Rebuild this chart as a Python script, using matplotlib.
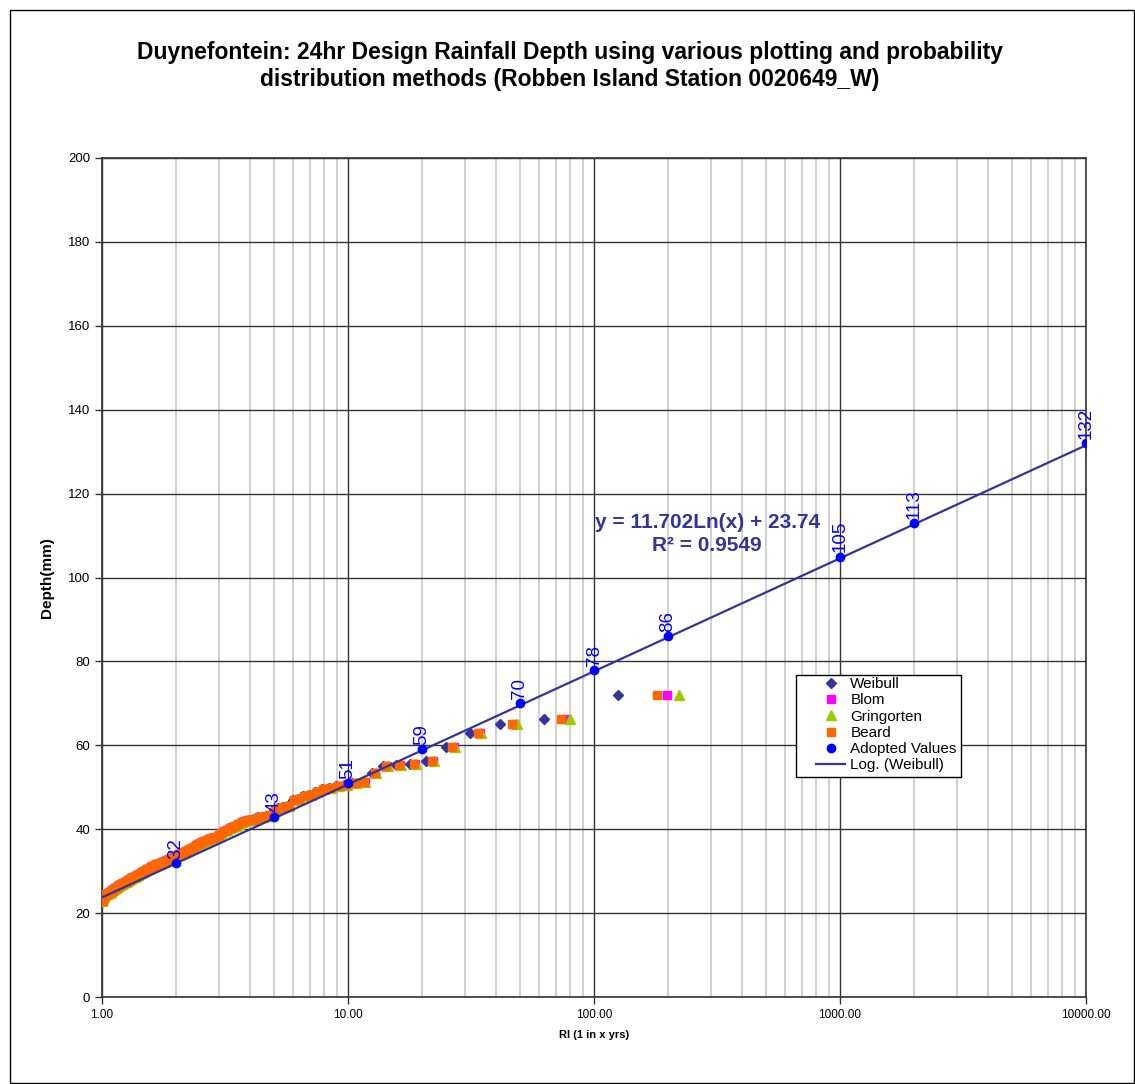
import matplotlib
matplotlib.use('Agg')
import matplotlib.pyplot as plt
import numpy as np
from matplotlib.ticker import LogLocator, FixedLocator, FuncFormatter, NullFormatter
from matplotlib.patches import Rectangle

plt.rcParams['font.family'] = ['Liberation Sans', 'DejaVu Sans']

# 24hr annual max depths (mm), ranked largest first
depth = [72.0, 66.3, 65.0, 63.0, 59.5, 56.2, 55.5, 55.2, 55.0, 53.5,
         51.2, 50.9, 50.5, 50.3, 49.8, 49.5, 48.8, 48.2, 47.8, 47.2,
         47.0, 45.6, 45.3, 45.0, 44.6, 43.5, 43.2, 43.0, 42.8, 42.5,
         42.3, 42.2, 42.0, 41.6, 41.2, 40.8, 40.6, 40.3, 39.8, 39.5,
         39.0, 38.6, 38.2, 38.0, 37.8, 37.6, 37.5, 37.3, 37.0, 36.7,
         36.4, 36.2, 35.8, 35.5, 35.3, 35.0, 34.8, 34.6, 34.4, 34.2,
         34.0, 33.8, 33.6, 33.4, 33.2, 33.0, 32.8, 32.7, 32.5, 32.3,
         32.1, 32.0, 31.8, 31.7, 31.6, 31.5, 31.3, 31.2, 31.0, 30.8,
         30.6, 30.4, 30.2, 30.0, 29.9, 29.7, 29.5, 29.4, 29.2, 29.0,
         28.9, 28.7, 28.6, 28.4, 28.3, 28.2, 28.0, 27.9, 27.7, 27.5,
         27.4, 27.2, 27.0, 26.9, 26.7, 26.6, 26.4, 26.2, 26.1, 25.9,
         25.7, 25.6, 25.4, 25.3, 25.1, 25.0, 24.9, 24.8, 24.6, 24.5,
         24.2, 23.9, 23.5, 23.0]

adopted_ri = [2, 5, 10, 20, 50, 100, 200, 1000, 2000, 10000]
adopted_depth = [32, 43, 51, 59, 70, 78, 86, 105, 113, 132]

# log trendline fitted to the Weibull series (from the chart label)
trend_a = 11.702
trend_b = 23.74
trend_r2 = 0.9549

n = len(depth)
rank = np.arange(1, n + 1)
ri_weibull = (n + 1) / rank
ri_blom = (n + 0.25) / (rank - 0.375)
ri_gringorten = (n + 0.12) / (rank - 0.44)
ri_beard = (n + 0.38) / (rank - 0.31)

fig = plt.figure(figsize=(11.35, 10.84), dpi=100)
ax = fig.add_axes([102/1135, 1 - 997/1084, 984/1135, 839/1084])

ax.plot(ri_weibull, depth, ls='none', marker='D', ms=5, color='#333399', label='Weibull', zorder=3)
ax.plot(ri_blom, depth, ls='none', marker='s', ms=6, color='#FF00FF', label='Blom', zorder=3)
ax.plot(ri_gringorten, depth, ls='none', marker='^', ms=6.5, color='#99CC00', label='Gringorten', zorder=3)
ax.plot(ri_beard, depth, ls='none', marker='s', ms=6, color='#FF6600', label='Beard', zorder=3)

xs = np.logspace(np.log10(ri_weibull.min()), 4, 200)
ax.plot(adopted_ri, adopted_depth, ls='none', marker='o', ms=6, color='#0000FF',
        label='Adopted Values', zorder=5)
ax.plot(xs, trend_a * np.log(xs) + trend_b, color='#333399', lw=1.6,
        label='Log. (Weibull)', zorder=4)

for ri, d in zip(adopted_ri, adopted_depth):
    ax.annotate(str(d), (ri, d), xytext=(0, 3), textcoords='offset points',
                rotation=90, ha='center', va='bottom', color='#0000FF', fontsize=13.5)

ax.text(0.615, 0.552, f'y = {trend_a}Ln(x) + {trend_b}\nR\u00b2 = {trend_r2}', transform=ax.transAxes,
        ha='center', va='center', fontsize=15, fontweight='bold', color='#333399',
        linespacing=1.25)

ax.set_xscale('log')
ax.set_xlim(1, 10000)
ax.set_ylim(0, 200)
ax.yaxis.set_major_locator(FixedLocator(np.arange(0, 201, 20)))
ax.xaxis.set_major_locator(FixedLocator([1, 10, 100, 1000, 10000]))
ax.xaxis.set_minor_locator(LogLocator(base=10, subs=np.arange(2, 10)))
ax.xaxis.set_major_formatter(FuncFormatter(lambda v, p: f'{v:.2f}'))
ax.xaxis.set_minor_formatter(NullFormatter())
ax.tick_params(axis='x', which='minor', length=0)
ax.tick_params(axis='both', which='major', length=5, width=1, direction='out', color='#333333')
ax.tick_params(axis='y', labelsize=9.5)
ax.tick_params(axis='x', labelsize=8.5)

ax.grid(True, which='major', color='#333333', lw=1)
ax.grid(True, which='minor', axis='x', color='#c8c8c8', lw=1.2)
ax.set_axisbelow(True)
for s in ax.spines.values():
    s.set_color('#333333')
    s.set_linewidth(1.2)

ax.set_xlabel('RI (1 in x yrs)', fontsize=8, fontweight='bold')
ax.xaxis.set_label_coords(0.5, -0.039)
ax.set_ylabel('Depth(mm)', fontsize=11, fontweight='bold')
ax.yaxis.set_label_coords(-0.049, 0.5)

# legend without its own frame, box drawn separately to match the wide left padding
leg = ax.legend(loc='upper left', bbox_to_anchor=(0.7256, 0.3814), borderaxespad=0,
                fontsize=11, frameon=False, labelspacing=0.15, handlelength=1.9,
                handletextpad=0.35, borderpad=0)
ax.add_patch(Rectangle((0.7053, 0.2622), 0.873 - 0.7053, 0.3838 - 0.2622, transform=ax.transAxes,
                       fill=True, facecolor='white', edgecolor='black', lw=1, zorder=6))
leg.set_zorder(7)

fig.text(0.502, 0.939, 'Duynefontein: 24hr Design Rainfall Depth using various plotting and probability\n'
         'distribution methods (Robben Island Station 0020649_W)',
         ha='center', va='center', fontsize=16.5, fontweight='bold', linespacing=1.2)

fig.patches.append(Rectangle((10/1135, 0.001), 1 - 11/1135, 1 - 11/1084, transform=fig.transFigure,
                             fill=False, edgecolor='black', lw=1))

fig.savefig('out.png', dpi=100)
